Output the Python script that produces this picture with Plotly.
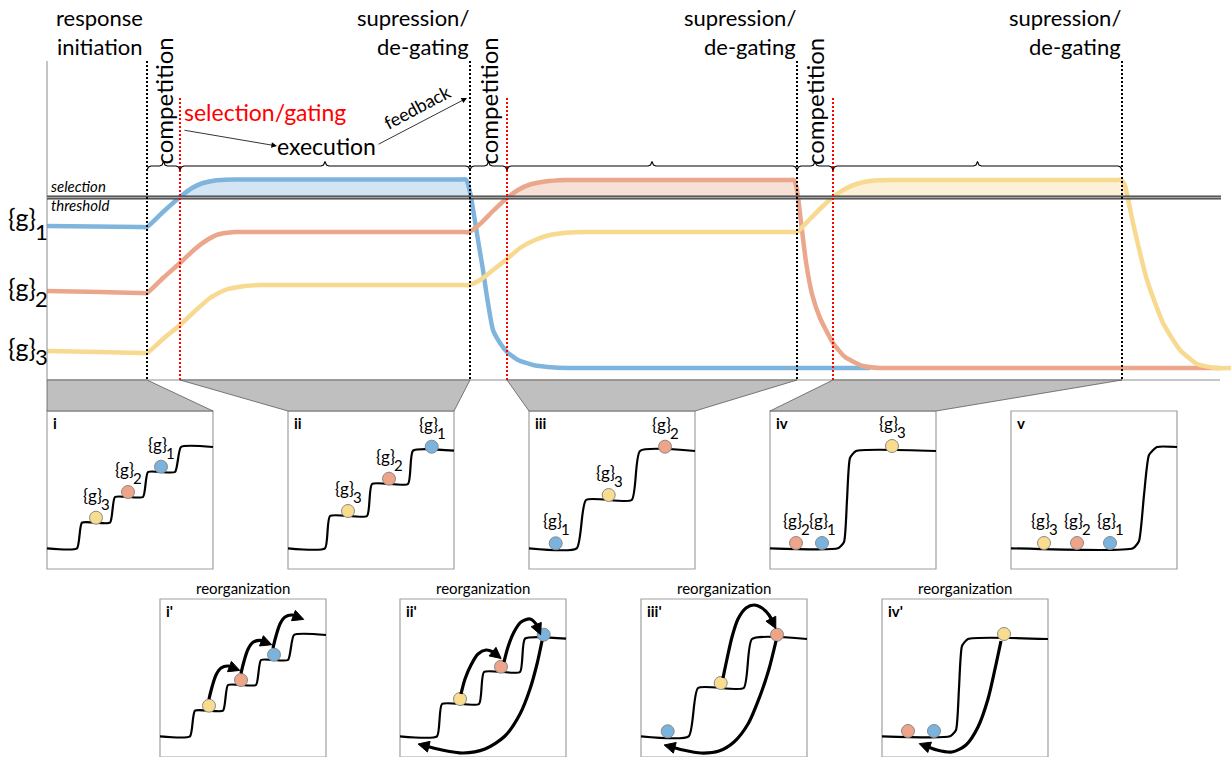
import math
import plotly.graph_objects as go

FONT = "Lato"

# ---------------- top panel (time axis / activation, drawing units) ----------------
AXIS_X0, AXIS_X1 = 47, 1220
AXIS_Y_TOP, AXIS_Y_BASE = 61, 380
comp_start = [147, 470, 797]          # competition onsets (black dotted)
gate_time = [180, 507, 833]           # selection / gating (red dotted)
degate_time = [470, 797, 1122]        # suppression / de-gating
threshold_y = 197.5
red_line_top = 98

blue_t = [47, 140, 147, 163, 180, 192, 203, 215, 225, 235, 300, 400, 460, 466, 470, 474, 478, 483, 487, 493, 500, 507, 518, 533, 555, 575, 600, 700, 870]
blue_a = [226, 227, 227, 212, 197, 188, 183, 180.5, 179.8, 179.5, 179.5, 179.5, 179.5, 179.5, 192, 215, 240, 270, 297, 330, 343, 352, 360, 365, 367.5, 368, 368, 368, 368]

orange_t = [47, 100, 140, 147, 163, 180, 195, 207, 218, 235, 250, 300, 460, 469, 480, 493, 507, 518, 530, 545, 565, 580, 600, 700, 788, 794, 797, 801, 806, 812, 820, 833, 845, 863, 880, 900, 1000, 1220]
orange_a = [291, 292, 293, 293, 278, 263, 249, 240, 234.5, 232, 232, 232, 232, 232, 224, 211, 198, 190, 184.5, 181.5, 180, 180, 180, 180, 180, 180, 190, 222, 262, 294, 318, 343, 357, 366, 368, 368, 368, 368]

yellow_t = [47, 100, 140, 147, 163, 180, 195, 210, 225, 245, 260, 300, 460, 469, 480, 493, 507, 520, 535, 550, 570, 585, 600, 700, 790, 797, 810, 822, 833, 845, 858, 875, 890, 900, 1000, 1115, 1121, 1125, 1133, 1147, 1163, 1180, 1197, 1215, 1231]
yellow_a = [351, 352, 353, 353, 339, 325, 311, 298, 290, 286, 285, 285, 285, 285, 280, 270, 259, 248, 240, 235, 232.5, 232, 232, 232, 232, 232, 219, 207, 197, 189, 183.5, 180.5, 180, 180, 180, 180, 180, 186, 223, 280, 323, 350, 364, 368, 368]

LINE = {"blue": "#7FB5DD", "orange": "#EBA78C", "yellow": "#F7D98F"}
FILL = {"blue": "#D3E5F3", "orange": "#F7E0D6", "yellow": "#FCF0D7"}
DOT = {"blue": "#7AB3DD", "orange": "#EDA488", "yellow": "#F9DC8E"}

# side labels of the three groups
side_label_y = [216.7, 286.7, 346.7]
side_digit_y = [231.7, 298.3, 356.7]

# ---------------- small panels (coordinates relative to panel top-left) ----------------
PANEL_W, PANEL_H = 166, 158
stage_names = ["i", "ii", "iii", "iv", "v"]
upper_origin_x = [47, 288, 529, 770, 1011]
upper_origin_y = 411
lower_origin_x = [160, 400, 641, 882]
lower_origin_y = 599

stair_x = [
    [0, 30, 35, 63, 68, 96, 101, 128, 134, 166],
    [0, 37, 42, 79, 84, 120, 125, 166],
    [0, 47.7, 57, 102.7, 111, 166],
    [0, 68, 74, 77, 80, 86, 166],
    [0, 122, 128, 133, 138, 146, 166],
]
stair_y = [
    [137.3, 137.3, 111.7, 111.7, 86, 86, 61, 61, 36, 36],
    [137.3, 137.3, 105, 105, 73, 73, 39.7, 39.7],
    [137.3, 137.3, 89, 89, 40, 40],
    [137.3, 137.3, 131, 89, 47, 40, 40],
    [137.3, 137.3, 130, 84, 44, 36, 36],
]
# circles per stage
dot_group = [
    ["yellow", "orange", "blue"],
    ["yellow", "orange", "blue"],
    ["blue", "yellow", "orange"],
    ["orange", "blue", "yellow"],
    ["yellow", "orange", "blue"],
]
dot_x = [[49, 81, 114], [60, 101, 143.7], [26.7, 79.7, 136], [26, 52, 122], [33, 66, 99]]
dot_y = [[106.7, 81, 55.7], [100, 67.7, 35.7], [132.3, 84, 35.7], [132, 132, 35], [132, 132, 132]]
group_index = {"blue": "1", "orange": "2", "yellow": "3"}

# reorganization arrows (relative to lower panels)
arrow_paths = [
    [  # i'
        ([49, 52, 56, 61, 68, 76], [100, 88, 76, 69, 67, 70]),
        ([81, 84, 88, 93, 100, 108], [74.3, 62.3, 50.3, 43.3, 41.3, 44.3]),
        ([113, 116, 120, 125, 132, 140], [49, 37, 25, 18, 16, 19]),
    ],
    [  # ii'
        ([61, 65, 71, 78, 86, 93, 98], [95, 80, 66, 55, 51, 53, 57]),
        ([104, 108, 114, 121, 130, 136, 139], [63, 48, 33, 23, 20, 25, 32]),
        ([142, 137, 130, 120, 105, 85, 63, 42, 22], [42, 65, 90, 115, 137, 150, 154, 151, 146]),
    ],
    [  # iii'
        ([82, 86, 91, 97, 105, 113, 121, 128, 133], [79, 60, 38, 20, 9, 6, 9, 16, 26]),
        ([135, 128, 119, 107, 93, 78, 60, 42, 27], [42, 70, 97, 125, 143, 152, 154, 151, 147]),
    ],
    [  # iv'
        ([119, 113, 106, 96, 84, 70, 55, 41], [42, 70, 100, 128, 146, 153, 151, 146]),
    ],
]
HEAD_LEN, HEAD_HALF = 11, 5.5

fig = go.Figure()
annotations = []


def add_line(xs, ys, color, width, dash=None, shape="linear", smoothing=None):
    fig.add_trace(go.Scatter(
        x=xs, y=ys, mode="lines",
        line=dict(color=color, width=width, dash=dash, shape=shape, smoothing=smoothing),
        hoverinfo="skip", showlegend=False))


def text(x, y, s, size, color="black", xanchor="center", yanchor="middle", angle=0, italic=False, bold=False):
    if bold:
        s = "<b>" + s + "</b>"
    if italic:
        s = "<i>" + s + "</i>"
    annotations.append(dict(x=x, y=y, xref="x", yref="y", text=s, showarrow=False,
                            font=dict(family=FONT, size=size, color=color),
                            xanchor=xanchor, yanchor=yanchor, textangle=angle))


curves = [("blue", blue_t, blue_a, 0), ("orange", orange_t, orange_a, 1), ("yellow", yellow_t, yellow_a, 2)]

# fills above threshold while gated
for name, ts, vs, k in curves:
    g0, g1 = gate_time[k], degate_time[k] + 3
    pts = [(t, v) for t, v in zip(ts, vs) if g0 <= t <= g1 and v <= threshold_y + 0.5]
    xs = [p[0] for p in pts] + [pts[-1][0], g0]
    ys = [p[1] for p in pts] + [threshold_y, threshold_y]
    fig.add_trace(go.Scatter(x=xs, y=ys, mode="lines", fill="toself", fillcolor=FILL[name],
                             line=dict(width=0), hoverinfo="skip", showlegend=False))

for name, ts, vs, k in curves:
    add_line(ts, vs, LINE[name], 4.5, shape="spline", smoothing=0.5)

# axes
add_line([AXIS_X0, AXIS_X0], [AXIS_Y_TOP, AXIS_Y_BASE], "#8C8C8C", 1)
add_line([AXIS_X0, AXIS_X1], [AXIS_Y_BASE, AXIS_Y_BASE], "#8C8C8C", 1)

# threshold (double line)
add_line([AXIS_X0, AXIS_X1 + 1], [threshold_y, threshold_y], "#3F3F3F", 4)
add_line([AXIS_X0, AXIS_X1 + 1], [threshold_y, threshold_y], "#A6A6A6", 1.6)

# phase boundaries
for x in sorted(set(comp_start + degate_time)):
    add_line([x, x], [AXIS_Y_TOP, AXIS_Y_BASE], "black", 2, dash="2px,2px")
for x in gate_time:
    add_line([x, x], [red_line_top, AXIS_Y_BASE], "#FF0000", 2, dash="2px,2px")

# braces
brace_edges = []
for k in range(3):
    brace_edges.append((comp_start[k], gate_time[k]))
    brace_edges.append((gate_time[k], degate_time[k]))
for x0, x1 in brace_edges:
    xm = (x0 + x1) / 2
    bx = [x0, x0 + 1.5, x0 + 4, xm - 4, xm - 1.5, xm, xm + 1.5, xm + 4, x1 - 4, x1 - 1.5, x1]
    by = [170, 167, 166, 166, 165, 161.5, 165, 166, 166, 167, 170]
    add_line(bx, by, "black", 1.1)

# projection trapezoids
trap_src = [(AXIS_X0, comp_start[0])] + [(gate_time[k], degate_time[k]) for k in range(3)]
for k, (s0, s1) in enumerate(trap_src):
    bx0 = upper_origin_x[k]
    bx1 = bx0 + PANEL_W
    fig.add_trace(go.Scatter(
        x=[s0, s1, bx1, bx0, s0], y=[AXIS_Y_BASE, AXIS_Y_BASE, upper_origin_y, upper_origin_y, AXIS_Y_BASE],
        mode="lines", fill="toself", fillcolor="#BFBFBF", line=dict(color="#5A5A5A", width=0.8),
        hoverinfo="skip", showlegend=False))


def draw_panel(ox, oy, k, label, with_labels):
    fig.add_shape(type="rect", x0=ox, x1=ox + PANEL_W, y0=oy, y1=oy + PANEL_H,
                  line=dict(color="#A0A0A0", width=1.2), fillcolor="white", layer="below")
    add_line([ox + v for v in stair_x[k]], [oy + v for v in stair_y[k]], "black", 2.2,
             shape="spline", smoothing=0.5)
    text(ox + 4, oy + 12, label, 15, xanchor="left", bold=True)
    for g, dx, dy in zip(dot_group[k], dot_x[k], dot_y[k]):
        fig.add_trace(go.Scatter(x=[ox + dx], y=[oy + dy], mode="markers",
                                 marker=dict(size=13, color=DOT[g], line=dict(color="#8A8A8A", width=1)),
                                 hoverinfo="skip", showlegend=False))
        if with_labels:
            text(ox + dx - 3.5, oy + dy - 22.5, "{g}", 17)
            text(ox + dx + 9.5, oy + dy - 14, group_index[g], 15)


def arrow_head(xs, ys):
    dx, dy = xs[-1] - xs[-2], ys[-1] - ys[-2]
    L = math.hypot(dx, dy)
    ux, uy = dx / L, dy / L
    tx, ty = xs[-1] + ux * 4, ys[-1] + uy * 4
    bx, by = tx - ux * HEAD_LEN, ty - uy * HEAD_LEN
    nx, ny = -uy, ux
    hx = [tx, bx + nx * HEAD_HALF, bx - nx * HEAD_HALF, tx]
    hy = [ty, by + ny * HEAD_HALF, by - ny * HEAD_HALF, ty]
    fig.add_trace(go.Scatter(x=hx, y=hy, mode="lines", fill="toself", fillcolor="black",
                             line=dict(color="black", width=1), hoverinfo="skip", showlegend=False))


for k, name in enumerate(stage_names):
    draw_panel(upper_origin_x[k], upper_origin_y, k, name, True)

for k in range(4):
    ox = lower_origin_x[k]
    draw_panel(ox, lower_origin_y, k, stage_names[k] + "'", False)
    text(ox + PANEL_W / 2, 588, "reorganization", 15)
    for px, py in arrow_paths[k]:
        xs = [ox + v for v in px]
        ys = [lower_origin_y + v for v in py]
        add_line(xs, ys, "black", 3.2, shape="spline", smoothing=0.8)
        arrow_head(xs, ys)

# ---- top panel text ----
text(99, 17, "response", 22)
text(99, 46, "initiation", 22)
for x in degate_time:
    text(x + 1, 17, "supression/", 22, xanchor="right")
    text(x + 1, 46, "de-gating", 22, xanchor="right")
for x0, x1 in zip(comp_start, gate_time):
    text((x0 + x1) / 2 - 0.5, 101.5, "competition", 24, angle=-90)
text(182, 112, "selection/gating", 23, color="#FF0000", xanchor="left")
text(326, 146, "execution", 23)
text(417, 107, "feedback", 18, angle=-28)
text(49, 186, "selection", 15, xanchor="left", italic=True)
text(49, 205, "threshold", 15, xanchor="left", italic=True)
for g, yy, yd in zip(["1", "2", "3"], side_label_y, side_digit_y):
    text(21.5, yy, "{g}", 25)
    text(41, yd, g, 22)

annotations.append(dict(x=277, y=146, ax=183, ay=130, xref="x", yref="y", axref="x", ayref="y",
                        text="", showarrow=True, arrowhead=2, arrowsize=1.4, arrowwidth=0.8, arrowcolor="black"))
annotations.append(dict(x=467, y=98, ax=377, ay=145, xref="x", yref="y", axref="x", ayref="y",
                        text="", showarrow=True, arrowhead=2, arrowsize=1.4, arrowwidth=0.8, arrowcolor="black"))

fig.update_layout(
    width=1231, height=757, margin=dict(l=0, r=0, t=0, b=0),
    paper_bgcolor="white", plot_bgcolor="white",
    xaxis=dict(range=[0, 1231], visible=False, fixedrange=True),
    yaxis=dict(range=[757, 0], visible=False, fixedrange=True),
    showlegend=False, annotations=annotations,
    font=dict(family=FONT, color="black"),
)

fig.write_html("out.html", config={"displayModeBar": False},
               post_script="document.body.style.margin='0';document.body.style.overflow='hidden';")
